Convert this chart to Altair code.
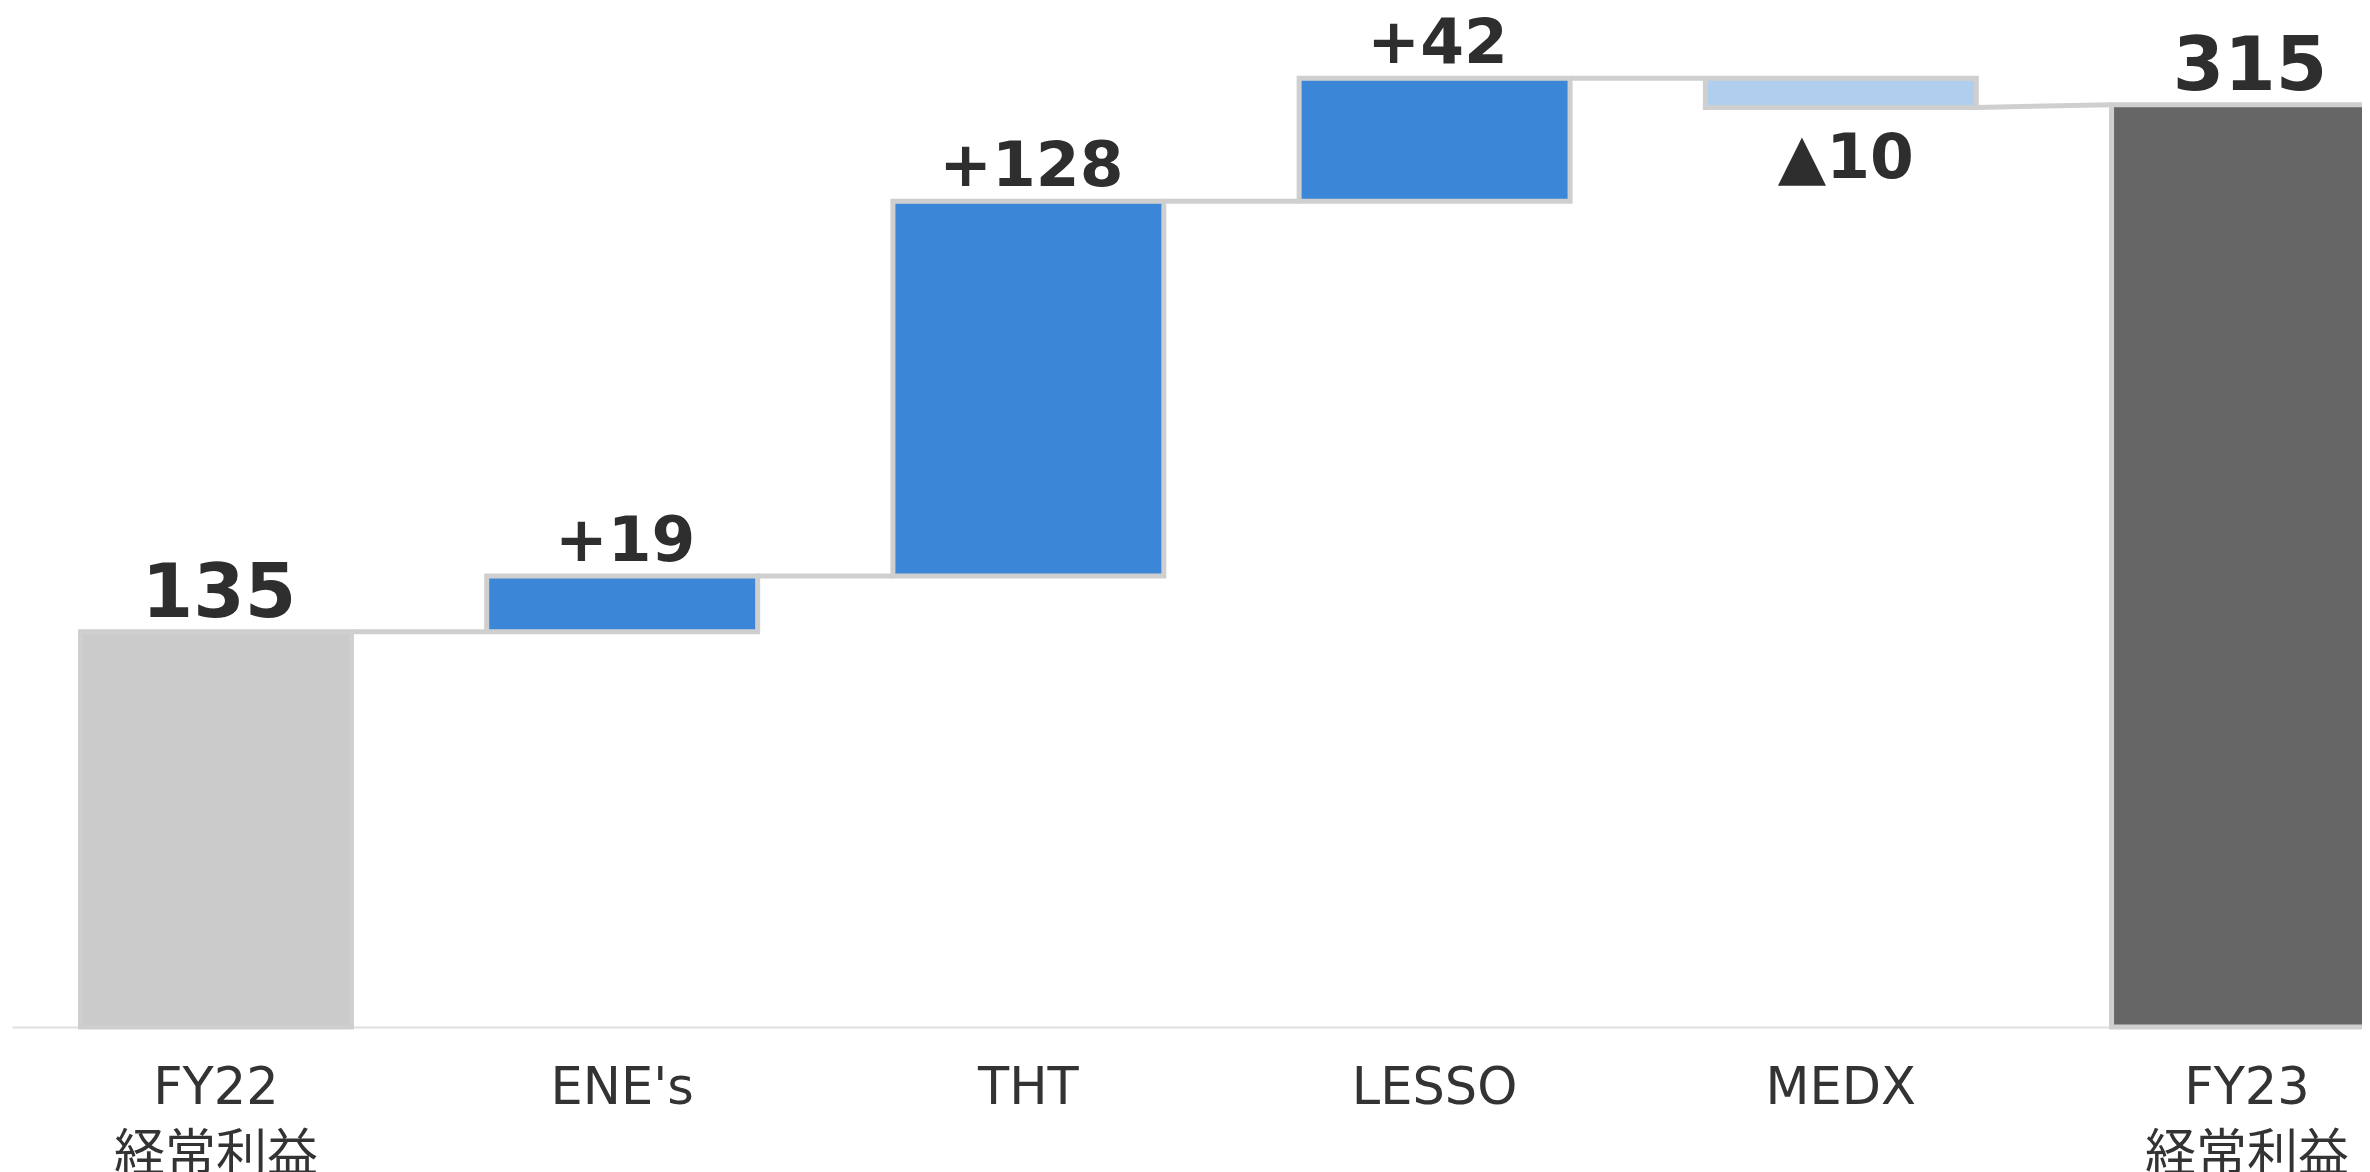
import altair as alt
import pandas as pd

# ---- data ----
categories = ["FY22\n経常利益", "ENE's", "THT", "LESSO", "MEDX", "FY23\n経常利益"]
kinds = ["start", "up", "up", "up", "down", "end"]
values = [135, 19, 128, 42, -10, 315]
labels = ["135", "+19", "+128", "+42", "▲10", "315"]

kind_domain = ["start", "up", "down", "end"]
kind_colors = ["#cbcbcb", "#3b86d7", "#b0cfee", "#666666"]

# ---- build waterfall table ----
rows = []
cum = 0
for c, k, v, lab in zip(categories, kinds, values, labels):
    if k in ("start", "end"):
        base, top = 0, v
        cum = v if k == "start" else cum
        end_level = v
        start_level = v
    else:
        base, top = cum, cum + v
        start_level = cum
        cum = cum + v
        end_level = cum
    rows.append(dict(cat=c, kind=k, lo=min(base, top), hi=max(base, top),
                     label=lab, start_level=start_level, end_level=end_level))
df = pd.DataFrame(rows)

conn = []
for i in range(len(rows) - 1):
    a, b = rows[i], rows[i + 1]
    nxt = b["hi"] if b["kind"] == "end" else b["start_level"]
    conn.append(dict(frm=a["cat"], to=b["cat"], y1=a["end_level"], y2=nxt))
dconn = pd.DataFrame(conn)

xscale = alt.Scale(domain=categories, paddingInner=0.333, paddingOuter=0.1686,
                   range=[0, 2439])
yscale = alt.Scale(domain=[0, 348], nice=False, zero=True)

STROKE = "#cfcfcf"
base = alt.Chart(df)

bars = base.mark_bar(stroke=STROKE, strokeWidth=5).encode(
    x=alt.X("cat:N", sort=categories, scale=xscale, title=None,
            axis=alt.Axis(labelAngle=0, labelExpr="split(datum.label, '\\n')",
                          labelFont="DejaVu Sans, Noto Sans CJK JP", labelFontSize=51,
                          labelColor="#333333", labelLineHeight=67, labelPadding=36,
                          labelLimit=0, ticks=False, tickSize=0,
                          domainColor="#e0e0e0", domainWidth=2,
                          grid=False, labelBaseline="top", title=None)),
    y=alt.Y("lo:Q", scale=yscale, axis=None),
    y2="hi:Q",
    color=alt.Color("kind:N", scale=alt.Scale(domain=kind_domain, range=kind_colors), legend=None),
)

connectors = alt.Chart(dconn).mark_rule(color=STROKE, strokeWidth=5).encode(
    x=alt.X("frm:N", sort=categories, scale=xscale, bandPosition=1, title=None),
    x2=alt.X2("to:N", bandPosition=0),
    y=alt.Y("y1:Q", scale=yscale, axis=None),
    y2="y2:Q",
)

text_up = base.transform_filter("datum.kind == 'up'").mark_text(
    font="DejaVu Sans", fontWeight="bold", fontSize=63, color="#2e2e2e",
    baseline="alphabetic", dy=-15, dx=3).encode(
    x=alt.X("cat:N", sort=categories, scale=xscale, title=None),
    y=alt.Y("hi:Q", scale=yscale, axis=None),
    text="label:N",
)
text_tot = base.transform_filter("datum.kind == 'start' || datum.kind == 'end'").mark_text(
    font="DejaVu Sans", fontWeight="bold", fontSize=74, color="#2e2e2e",
    baseline="alphabetic", dy=-15, dx=3).encode(
    x=alt.X("cat:N", sort=categories, scale=xscale, title=None),
    y=alt.Y("hi:Q", scale=yscale, axis=None),
    text="label:N",
)
text_down = base.transform_filter("datum.kind == 'down'").mark_text(
    font="DejaVu Sans", fontWeight="bold", fontSize=63, color="#2e2e2e",
    baseline="alphabetic", dy=70, dx=5).encode(
    x=alt.X("cat:N", sort=categories, scale=xscale, title=None),
    y=alt.Y("lo:Q", scale=yscale, axis=None),
    text="label:N",
)

chart = alt.layer(bars, connectors, text_up, text_tot, text_down).properties(
    width=2350, height=1019,
    autosize=alt.AutoSizeParams(type="none"),
    padding={"left": 4, "top": 0, "right": 0, "bottom": 145},
    background="white",
).configure_view(stroke=None)

chart.save("out.html", embed_options={"renderer": "svg", "actions": False})
